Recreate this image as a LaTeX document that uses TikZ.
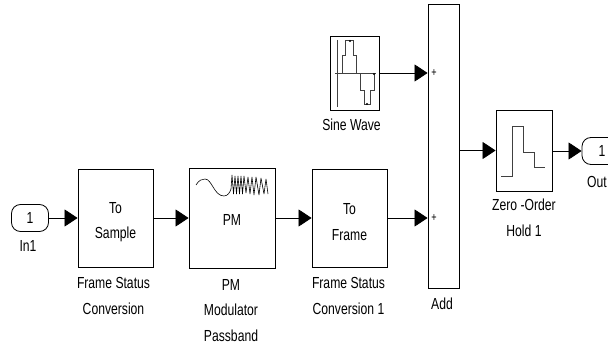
\documentclass[tikz,border=0pt]{standalone}
\usepackage{fontspec}
\setmainfont[FakeStretch=0.76]{Liberation Sans}
\usetikzlibrary{arrows.meta}
\tikzset{
 blk/.style={draw=black,line width=0.8pt,fill=white,inner sep=0pt},
 port/.style={draw=black,line width=0.8pt,rounded corners=9pt,inner sep=0pt,minimum height=27pt,font=\fontsize{16}{18}\selectfont},
 lbl/.style={inner sep=0pt,align=center,font=\fontsize{16}{25.5}\selectfont},
 sgn/.style={inner sep=0pt,font=\fontsize{12}{12}\selectfont},
 wire/.style={line width=0.7pt,-{Triangle[length=13pt,width=17pt]}},
 icon/.style={line width=0.8pt,draw=black!75}
}
\begin{document}
\begin{tikzpicture}[x=1pt,y=-1pt]
\useasboundingbox (0,0) rectangle (608,345);
\clip (0,0) rectangle (608,345);
\node[port,minimum width=37pt] (in) at (30,218) {1};
\node[blk,minimum width=75pt,minimum height=98pt] (samp) at (115.5,218) {};
\node[blk,minimum width=86pt,minimum height=100pt] (pm) at (232,218) {};
\node[blk,minimum width=75pt,minimum height=98pt] (fr) at (349.5,218) {};
\node[blk,minimum width=31pt,minimum height=284pt] (add) at (443.5,146) {};
\node[blk,minimum width=49pt,minimum height=74pt] (sine) at (354.5,73) {};
\node[blk,minimum width=56pt,minimum height=81pt] (zoh) at (524,150.5) {};
\node[port,minimum width=40pt] (out) at (602,151) {1};
\node[lbl] (t1) at (115.5,222) {To\\Sample};
\node[lbl] (t2) at (232,220) {PM};
\node[lbl] (t3) at (349.5,222) {To\\Frame};
\node[sgn] (p1) at (434,73) {+};
\node[sgn] (p2) at (434,218) {+};
\node[lbl] (l1) at (28,246) {In1};
\node[lbl] (l2) at (113.5,296) {Frame Status\\Conversion};
\node[lbl] (l3) at (231,310.5) {PM\\Modulator\\Passband};
\node[lbl] (l4) at (348.5,296) {Frame Status\\Conversion 1};
\node[lbl] (l5) at (442,304) {Add};
\node[lbl] (l6) at (351.5,125) {Sine Wave};
\node[lbl] (l7) at (524,218) {Zero -Order\\Hold 1};
\node[lbl] (l8) at (597,182) {Out};
\coordinate (a1) at (add.west |- sine.east);
\coordinate (a2) at (add.west |- samp.west);
\draw[wire] (in.east) -- (samp.west);
\draw[wire] (samp.east) -- (pm.west);
\draw[wire] (pm.east) -- (fr.west);
\draw[wire] (fr.east) -- (a2);
\draw[wire] (sine.east) -- (a1);
\draw[wire] (add.east |- zoh.west) -- (zoh.west);
\draw[wire] (zoh.east |- out.west) -- (out.west);
% sine icon
\draw[icon] (337,40) -- (337,107);
\draw[icon] (335,73) -- (376,73);
\draw[icon] (342,73) -- (342,55) -- (345,55) -- (345,40) -- (353,40) -- (353,55) -- (356,55) -- (356,73) -- (360,73) -- (360,90) -- (364,90) -- (364,104) -- (370,104) -- (370,90) -- (374,90) -- (374,73);
\fill (350,41) circle (1.2pt) (367,104) circle (1.2pt) (374,74) circle (1.2pt);
% PM icon
\draw[draw=black,line width=0.6pt,line join=bevel] (196,185) .. controls (199,180) and (202,179) .. (205,179) .. controls (212,179) and (214,196) .. (224,196) .. controls (228,196) and (230,192) .. (231,189)
 -- (232,175) -- (233.5,194) -- (235,176) -- (236.5,194) -- (238,176) -- (239.5,194) -- (241,176) -- (242.5,194) -- (244,176) -- (246,193) -- (248,177) -- (250,194) -- (252,177) -- (254,195) -- (256,177) -- (259,195) -- (261,178) -- (264,194) -- (266,179) -- (268,194);
% ZOH icon
\draw[icon] (501,176) -- (512,176) -- (512,126) -- (523,126) -- (523,152) -- (534,152) -- (534,167) -- (545,167);
\end{tikzpicture}
\end{document}
